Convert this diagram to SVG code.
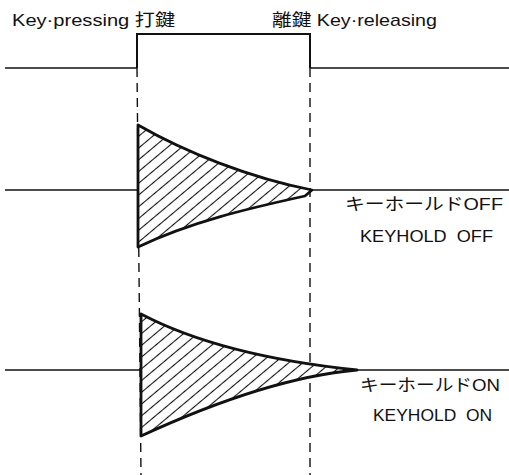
<svg xmlns="http://www.w3.org/2000/svg" width="509" height="475" viewBox="0 0 509 475">
<style>
.t{font-family:"Liberation Sans","Noto Sans CJK JP",sans-serif;font-size:17px;fill:#111}
.base{stroke:#111;stroke-width:1.5;fill:none}
.pulse{stroke:#111;stroke-width:2;fill:none}
.dash{stroke:#111;stroke-width:1.4;stroke-dasharray:9,6;fill:none}
.env{stroke:#111;stroke-width:2.8;fill:url(#hatch);stroke-linejoin:round}
</style>
<defs>
<pattern id="hatch" width="9" height="9" patternUnits="userSpaceOnUse" patternTransform="rotate(-40)">
<rect width="9" height="9" fill="#fff"/>
<line x1="0" y1="4.5" x2="9" y2="4.5" stroke="#111" stroke-width="1.1"/>
</pattern>
</defs>
<rect width="509" height="475" fill="#fff"/>
<g id="connectors">
<path class="base" d="M5,68 H137"/>
<path class="pulse" d="M137,68 V34 H310 V68"/>
<path class="base" d="M310,68 H509"/>
<path class="dash" d="M137,68 L141,475"/>
<path class="dash" d="M310,68 L310,475"/>
<path class="base" d="M5,190 H509"/>
<path class="base" d="M5,370 H509"/>
</g>
<g id="env-off">
<path class="env" d="M138,125 C185,152 250,178 312,190 L305,196 C250,208 190,222 138,247 Z"/>
</g>
<g id="env-on">
<path class="env" d="M141,314 C200,345 280,362 357,370 C300,375 230,395 141,436 Z"/>
</g>
<g id="labels">
<text class="t" x="12" y="26" textLength="163" lengthAdjust="spacingAndGlyphs">Key·pressing 打鍵</text>
<text class="t" x="272" y="26" textLength="165" lengthAdjust="spacingAndGlyphs">離鍵 Key·releasing</text>
<text class="t" x="345" y="210" textLength="158" lengthAdjust="spacingAndGlyphs">キーホールドOFF</text>
<text class="t" x="360" y="242" textLength="133" lengthAdjust="spacingAndGlyphs" xml:space="preserve">KEYHOLD  OFF</text>
<text class="t" x="360" y="391" textLength="140" lengthAdjust="spacingAndGlyphs">キーホールドON</text>
<text class="t" x="373" y="421" textLength="119" lengthAdjust="spacingAndGlyphs" xml:space="preserve">KEYHOLD  ON</text>
</g>
</svg>
